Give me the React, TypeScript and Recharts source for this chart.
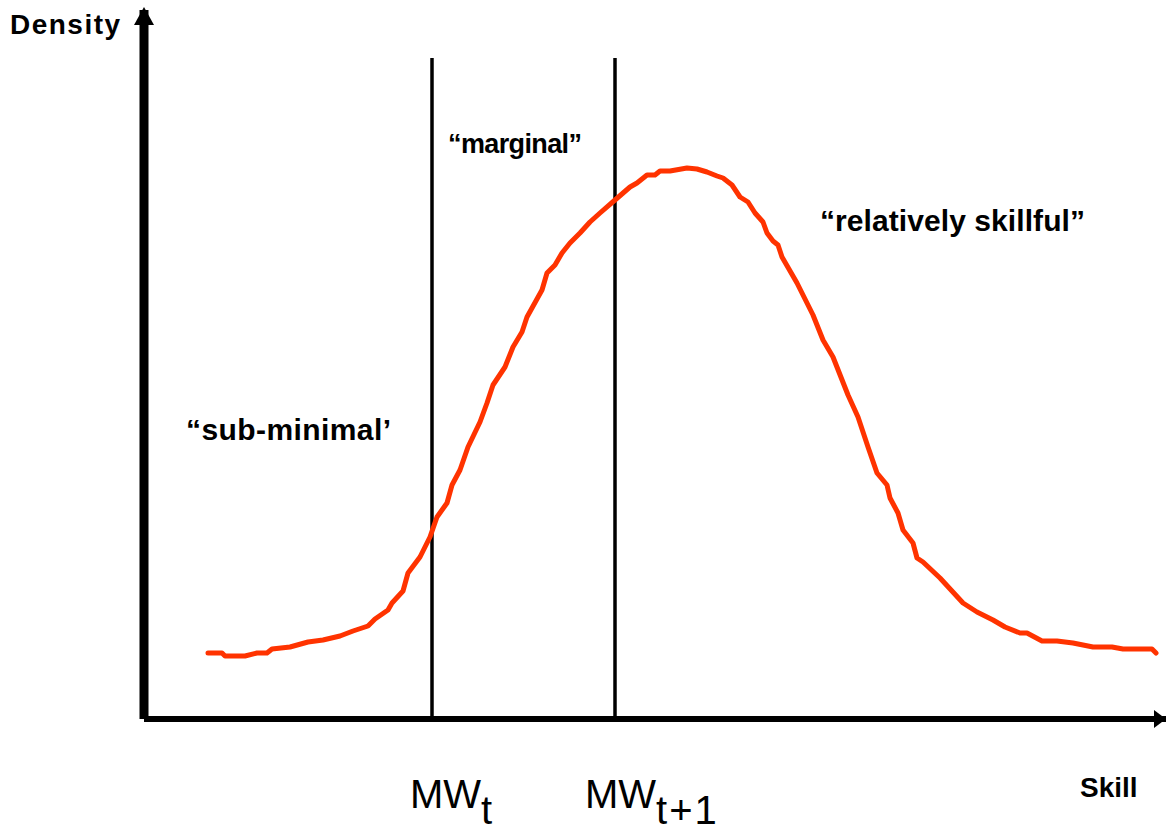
import React from 'react';
import { LineChart, Line, XAxis, YAxis, ReferenceLine, ReferenceDot } from 'recharts';

// skill position along the x axis
const skill = [
  64, 78, 81, 101, 113, 123, 128, 146, 164, 179, 196, 209, 224, 231, 244, 248, 259, 264,
  276, 286, 293, 303, 308, 316, 324, 336, 343, 349, 361, 369, 378, 383, 398, 403, 411, 418,
  426, 436, 446, 456, 471, 486, 493, 503, 511, 516, 526, 543, 553, 563, 573, 579, 588, 596,
  604, 611, 619, 623, 629, 634, 638, 653, 669, 679, 689, 704, 714, 724, 733, 743, 746, 754,
  759, 769, 773, 779, 796, 819, 833, 849, 861, 876, 883, 898, 913, 929, 949, 968, 979, 1008, 1012,
];

// density at each skill point
const density = [
  66, 66, 63, 63, 66, 66, 70, 72, 77, 79, 83, 88, 93, 100, 109, 116, 128, 146,
  162, 182, 202, 216, 234, 249, 272, 297, 316, 334, 352, 372, 387, 402, 429, 446, 454, 466,
  476, 486, 497, 506, 519, 532, 536, 544, 544, 548, 548, 551, 550, 547, 543, 541, 534, 522,
  517, 506, 497, 486, 478, 474, 462, 436, 404, 379, 362, 324, 302, 272, 246, 234, 221, 206,
  189, 176, 161, 157, 141, 116, 107, 99, 92, 86, 86, 78, 78, 76, 72, 72, 70, 70, 66,
];

// minimum wage positions this year and next
const mwPositions = [288, 471];
const mwSubscripts = ['t', 't+1'];
const mwTop = 661;

const xMax = 1022;
const yMax = 709;

const data = skill.map((s, i) => ({ skill: s, density: density[i] }));

const FONT = '"Liberation Sans", Arial, Helvetica, sans-serif';
const RED = '#ff3300';

const MwTick = (props: any) => {
  const { x, index } = props;
  const shift = index === 0 ? -22 : -30;
  return (
    <text x={x + shift} y={808} fontFamily={FONT} fontSize={40} fill="#000">
      MW
      <tspan dy={16} letterSpacing={index === 0 ? 0 : 2}>{mwSubscripts[index] ?? ''}</tspan>
    </text>
  );
};

const UpArrow = (props: any) => {
  const { cx, cy } = props;
  return <polygon points={`${cx},${cy - 3} ${cx - 10},${cy + 15} ${cx + 10},${cy + 15}`} fill="#000" />;
};

const RightArrow = (props: any) => {
  const { cx, cy } = props;
  return <polygon points={`${cx},${cy} ${cx - 12},${cy - 9} ${cx - 12},${cy + 9}`} fill="#000" />;
};

export default function App() {
  return (
    <div style={{ position: 'absolute', left: 0, top: 0, width: 1166, height: 834, background: '#fff' }}>
      <LineChart width={1166} height={834} data={data} margin={{ top: 10, right: 0, left: 143, bottom: 114 }}>
        <XAxis
          dataKey="skill"
          type="number"
          domain={[0, xMax]}
          ticks={mwPositions}
          tick={<MwTick />}
          tickLine={false}
          axisLine={{ stroke: '#000', strokeWidth: 6 }}
          height={1}
          interval={0}
        />
        <YAxis
          type="number"
          domain={[0, yMax]}
          tick={false}
          tickLine={false}
          axisLine={{ stroke: '#000', strokeWidth: 9 }}
          width={1}
        />
        {mwPositions.map((p) => (
          <ReferenceLine
            key={p}
            segment={[{ x: p, y: 0 }, { x: p, y: mwTop }]}
            stroke="#000"
            strokeWidth={3.5}
          />
        ))}
        <ReferenceDot x={0} y={yMax} r={0} shape={<UpArrow />} />
        <ReferenceDot x={xMax} y={0} r={0} shape={<RightArrow />} />
        <Line
          type="linear"
          dataKey="density"
          stroke={RED}
          strokeWidth={5}
          strokeLinecap="round"
          strokeLinejoin="round"
          dot={false}
          activeDot={false}
          isAnimationActive={false}
        />
        <g fontFamily={FONT} fontWeight="bold" fill="#000">
          <text x={10} y={34} fontSize={28} textLength={110} lengthAdjust="spacing">Density</text>
          <text x={1080} y={797} fontSize={28}>Skill</text>
          <text x={448} y={153} fontSize={27} textLength={134} lengthAdjust="spacing">“marginal”</text>
          <text x={820} y={231} fontSize={30} textLength={265} lengthAdjust="spacing">“relatively skillful”</text>
          <text x={186} y={440} fontSize={30} textLength={205} lengthAdjust="spacing">“sub-minimal’</text>
        </g>
      </LineChart>
    </div>
  );
}
